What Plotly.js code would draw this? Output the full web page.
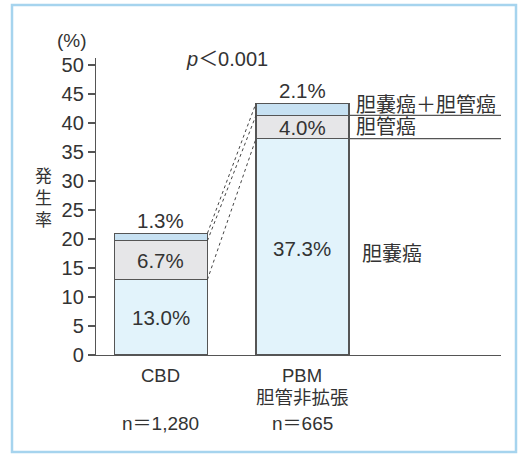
<!DOCTYPE html>
<html>
<head>
<meta charset="utf-8">
<script src="https://cdn.plot.ly/plotly-3.0.1.min.js"></script>
<style>
html,body{margin:0;padding:0;background:#fff;}
#chart{width:524px;height:457px;}
</style>
</head>
<body>
<div id="chart"></div>
<script>
// ---- data ----
const categories = ['CBD', 'PBM'];
const xLabelLines = [['CBD'], ['PBM', '胆管非拡張']];
const nLabels = ['n＝1,280', 'n＝665'];
const gallbladder = [13.0, 37.3];   // 胆嚢癌
const bileDuct = [6.7, 4.0];        // 胆管癌
const both = [1.3, 2.1];            // 胆嚢癌＋胆管癌
const seriesNames = ['胆嚢癌', '胆管癌', '胆嚢癌＋胆管癌'];
const yTicks = [0, 5, 10, 15, 20, 25, 30, 35, 40, 45, 50];
const yTitleChars = ['発', '生', '率'];
const pText = 'p';
const pRest = '＜0.001';

// ---- layout geometry ----
const W = 524, H = 457;
const M = {l: 96, r: 23, t: 58, b: 102};
const plotW = W - M.l - M.r, plotH = H - M.t - M.b;
const xRange = [-0.459, 2.403];
const yRange = [0, 51.2];
const barW = 0.657;
const px = (x) => (x - M.l) / plotW;       // pixel x -> paper
const py = (y) => (H - M.b - y) / plotH;   // pixel y -> paper

const xs = categories.map((c, i) => i);
const FONT = 'Liberation Sans, Arial, Noto Sans CJK JP, sans-serif';
const TXT = '#333333';
const EDGE = '#555555';
const colors = ['#e2f3fb', '#e6e6e8', '#c7e1f2'];

const mk = (y, name, color) => ({
  type: 'bar', x: xs, y: y, name: name, width: barW,
  marker: {color: color, line: {color: EDGE, width: 1.2}},
  hoverinfo: 'skip', showlegend: false
});

const traces = [
  mk(gallbladder, seriesNames[0], colors[0]),
  mk(bileDuct, seriesNames[1], colors[1]),
  mk(both, seriesNames[2], colors[2])
];

const lvl1 = gallbladder;
const lvl2 = gallbladder.map((v, i) => v + bileDuct[i]);
const lvl3 = lvl2.map((v, i) => v + both[i]);

const shapes = [];
// dashed connectors between bars
[lvl1, lvl2, lvl3].forEach(l => {
  shapes.push({type: 'line', xref: 'x', yref: 'y',
    x0: xs[0] + barW / 2, y0: l[0], x1: xs[1] - barW / 2, y1: l[1],
    line: {color: '#444', width: 1, dash: 'dot'}});
});
// leader lines to the right of the PBM bar
[lvl1, lvl2].forEach(l => {
  shapes.push({type: 'line', xref: 'x', yref: 'y',
    x0: xs[1] + barW / 2, y0: l[1], x1: xRange[1], y1: l[1],
    line: {color: EDGE, width: 1.2}});
});
// outer frame
shapes.push({type: 'rect', xref: 'paper', yref: 'paper',
  x0: px(12), x1: px(516), y0: py(452), y1: py(5),
  line: {color: '#a6d4ee', width: 2.5}, fillcolor: 'rgba(0,0,0,0)', layer: 'below'});

const ann = [];
const A = (o) => ann.push(Object.assign({showarrow: false, xanchor: 'center', yanchor: 'middle',
  font: {family: FONT, size: 20.5, color: TXT}}, o));

// value labels
xs.forEach((x, i) => {
  A({x: x, y: lvl1[i] / 2 + (i === 1 ? -0.3 : 0), xref: 'x', yref: 'y', text: gallbladder[i].toFixed(1) + '%'});
  A({x: x, y: (lvl1[i] + lvl2[i]) / 2, xref: 'x', yref: 'y', text: bileDuct[i].toFixed(1) + '%'});
  A({x: x, y: lvl3[i], xref: 'x', yref: 'y', yanchor: 'bottom', yshift: -1, text: both[i].toFixed(1) + '%'});
});

// right-side category labels
const rx = xs[1] + barW / 2;
A({x: rx, y: lvl3[1], xref: 'x', yref: 'y', xanchor: 'left', xshift: 5, yshift: -2, text: seriesNames[2], font: {family: FONT, size: 20, color: TXT}});
A({x: rx, y: (lvl1[1] + lvl2[1]) / 2, xref: 'x', yref: 'y', xanchor: 'left', xshift: 5, text: seriesNames[1], font: {family: FONT, size: 20, color: TXT}});
A({x: rx, y: lvl1[1] / 2 - 1.2, xref: 'x', yref: 'y', xanchor: 'left', xshift: 11, text: seriesNames[0], font: {family: FONT, size: 20, color: TXT}});

// x labels
xs.forEach((x, i) => {
  xLabelLines[i].forEach((t, j) => {
    A({x: x, xref: 'x', yref: 'paper', y: py(375 + j * 22.5), text: t, font: {family: FONT, size: 18.5, color: TXT}});
  });
  A({x: x, xref: 'x', yref: 'paper', y: py(423), text: nLabels[i], font: {family: FONT, size: 19, color: TXT}});
});

// (%) and vertical y title
A({xref: 'paper', yref: 'paper', x: px(72), y: py(40), text: '(%)', font: {family: FONT, size: 19, color: TXT}});
A({xref: 'paper', yref: 'paper', x: px(44), y: py(196), text: yTitleChars.join('<br>'),
  font: {family: 'Noto Sans CJK JP', size: 17, color: TXT}});
// p value
A({xref: 'paper', yref: 'paper', x: px(227), y: py(59), text: '<i>' + pText + '</i>' + pRest, font: {family: FONT, size: 20, color: TXT}});

const layout = {
  width: W, height: H,
  margin: M,
  paper_bgcolor: '#ffffff', plot_bgcolor: 'rgba(0,0,0,0)',
  barmode: 'stack',
  showlegend: false,
  xaxis: {range: xRange, showline: true, linecolor: EDGE, linewidth: 1.2,
    showticklabels: false, ticks: '', showgrid: false, zeroline: false, fixedrange: true},
  yaxis: {range: yRange, showline: true, linecolor: EDGE, linewidth: 1.2,
    tickvals: yTicks, ticktext: yTicks.map(String), ticks: 'outside', ticklen: 7, tickcolor: EDGE, tickwidth: 1.2,
    tickfont: {family: FONT, size: 20, color: TXT}, ticklabelstandoff: 0,
    showgrid: false, zeroline: false, fixedrange: true},
  shapes: shapes,
  annotations: ann
};

Plotly.newPlot('chart', traces, layout, {displayModeBar: false, staticPlot: true});
</script>
</body>
</html>
